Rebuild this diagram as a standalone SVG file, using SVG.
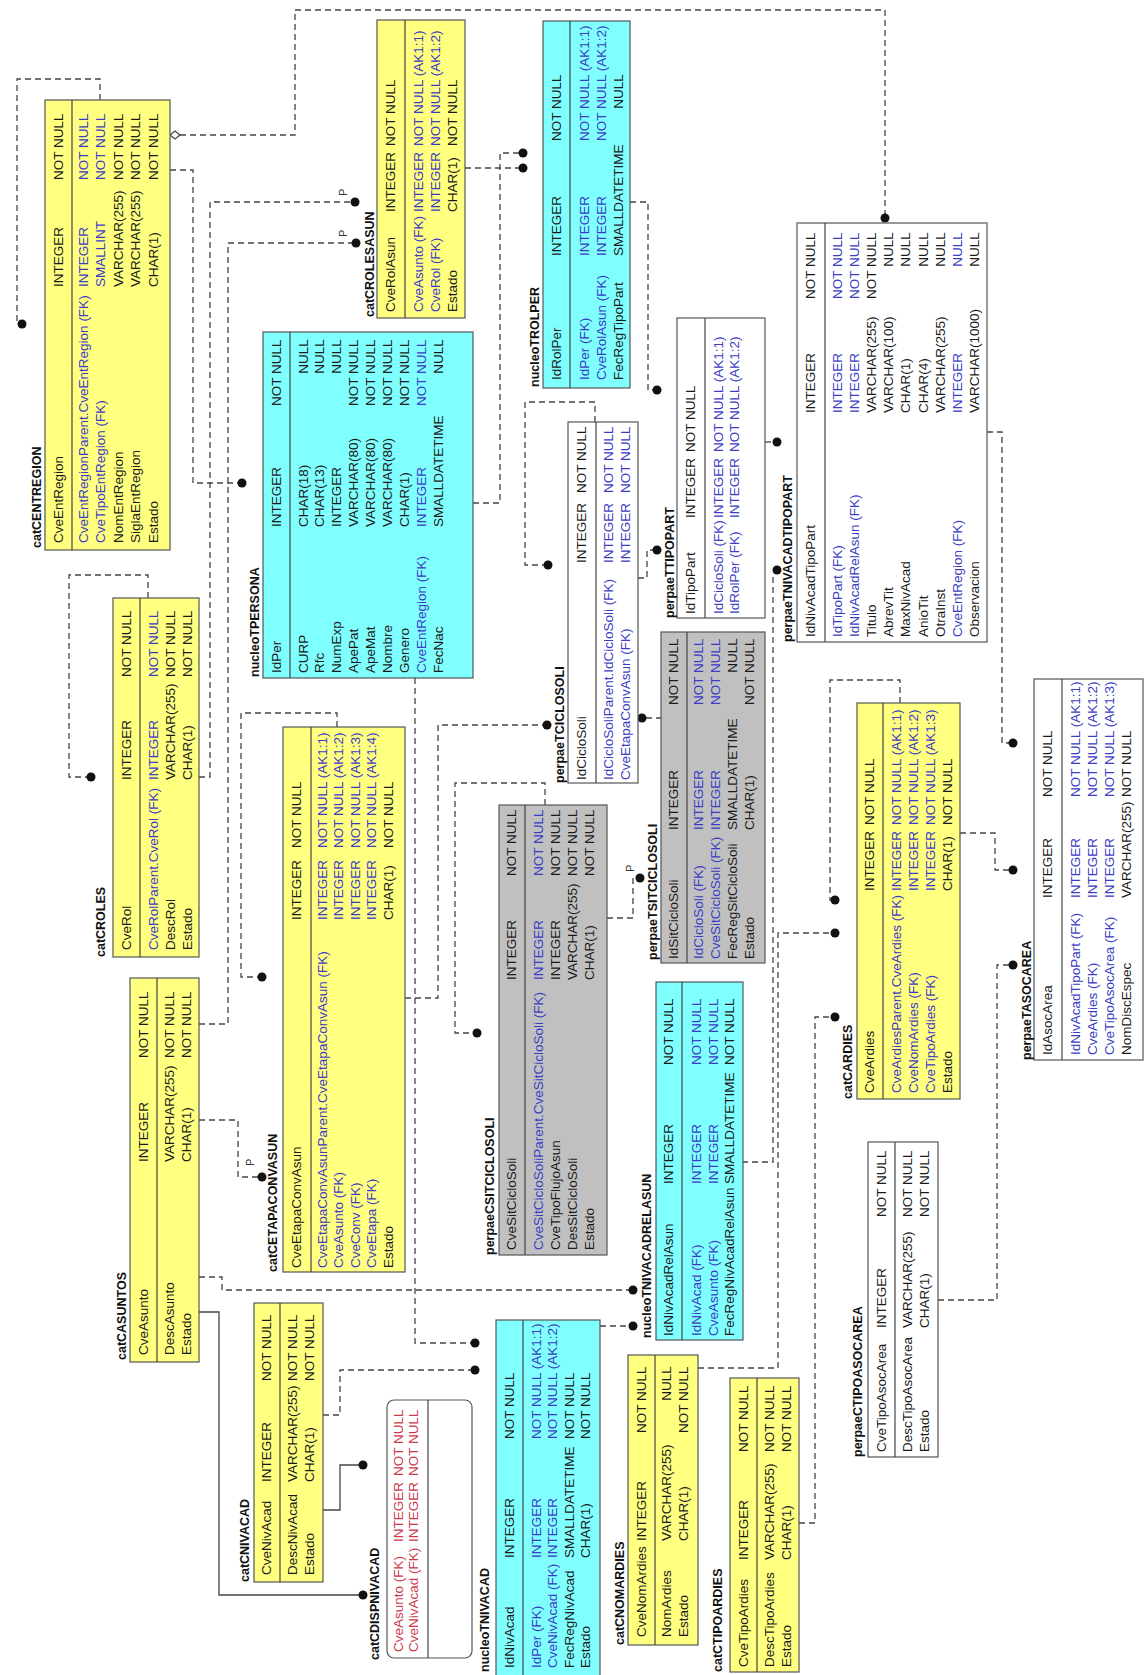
<svg xmlns="http://www.w3.org/2000/svg" width="1146" height="1675" viewBox="0 0 1146 1675">
<style>
text{font-family:"Liberation Sans",Arial,sans-serif;font-size:13.5px;fill:#1a1a1a}
.t{font-weight:bold;font-size:12.5px;fill:#111}
.b{fill:#3b3bc4}
.r{fill:#cc3a4a}
.e{text-anchor:end}
.yl{fill:#ffff80;stroke:#555;stroke-width:1.2}
.cy{fill:#80ffff;stroke:#555;stroke-width:1.2}
.gr{fill:#c0c0c0;stroke:#555;stroke-width:1.2}
.wh{fill:#ffffff;stroke:#555;stroke-width:1.2}
.dv{stroke:#444;stroke-width:1.2}
.cn{fill:none;stroke:#444;stroke-width:1.3;stroke-dasharray:6 4}
.so{fill:none;stroke:#444;stroke-width:1.3}
.dt{fill:#111}
.p{font-size:11px;fill:#333}
</style>
<rect width="1146" height="1675" fill="#ffffff"/>

<g id="connectors">
<path class="cn" d="M100,100 V79 H17 V322"/><circle class="dt" cx="22" cy="324" r="4.5"/>
<path class="cn" d="M180,135 H295 V10 H885 V214"/><polygon points="170,135 175,131 180,135 175,139" fill="#fff" stroke="#444" stroke-width="1.2"/><circle class="dt" cx="885" cy="218" r="4.5"/>
<path class="cn" d="M170,170 H193 V483 H238"/><circle class="dt" cx="242" cy="483" r="4.5"/>
<path class="cn" d="M199,777 H210 V202 H351"/><circle class="dt" cx="355" cy="202" r="4.5"/>
<path class="cn" d="M199,1024 H228 V243 H352"/><circle class="dt" cx="356" cy="243" r="4.5"/>
<path class="cn" d="M465,168 H519"/><circle class="dt" cx="523" cy="168" r="4.5"/>
<path class="cn" d="M473,503 H500 V153 H519"/><circle class="dt" cx="523" cy="153" r="4.5"/>
<path class="cn" d="M630,202 H648 V390 H653"/><circle class="dt" cx="657" cy="390" r="4.5"/>
<path class="cn" d="M595,422 V402 H525 V565 H544"/><circle class="dt" cx="548" cy="565" r="4.5"/>
<path class="cn" d="M638,578 H647 V550 H653"/><circle class="dt" cx="657" cy="550" r="4.5"/>
<path class="cn" d="M405,998 H438 V725 H543"/><circle class="dt" cx="547" cy="725" r="4.5"/>
<path class="cn" d="M646,718 H661"/><circle class="dt" cx="642" cy="718" r="4.5"/>
<path class="cn" d="M607,918 H633 V878 H636"/><circle class="dt" cx="640" cy="878" r="4.5"/>
<path class="cn" d="M765,442 H773"/><circle class="dt" cx="777" cy="442" r="4.5"/>
<path class="cn" d="M742,1162 H773 V574"/><circle class="dt" cx="777" cy="570" r="4.5"/>
<path class="cn" d="M698,1368 H778 V933 H831"/><circle class="dt" cx="835" cy="933" r="4.5"/>
<path class="cn" d="M799,1523 H815 V1017 H831"/><circle class="dt" cx="835" cy="1017" r="4.5"/>
<path class="cn" d="M900,703 V680 H830 V900 H831"/><circle class="dt" cx="835" cy="900" r="4.5"/>
<path class="cn" d="M960,833 H995 V870 H1009"/><circle class="dt" cx="1013" cy="870" r="4.5"/>
<path class="cn" d="M987,432 H1002 V743 H1009"/><circle class="dt" cx="1013" cy="743" r="4.5"/>
<path class="cn" d="M938,1300 H997 V965 H1009"/><circle class="dt" cx="1013" cy="965" r="4.5"/>
<path class="cn" d="M545,805 V783 H455 V1033 H473"/><circle class="dt" cx="477" cy="1033" r="4.5"/>
<path class="cn" d="M148,598 V575 H69 V777 H87"/><circle class="dt" cx="91" cy="777" r="4.5"/>
<path class="cn" d="M337,727 V713 H241 V977 H258"/><circle class="dt" cx="262" cy="977" r="4.5"/>
<path class="cn" d="M199,1120 H238 V1177 H258"/><circle class="dt" cx="262" cy="1177" r="4.5"/>
<path class="cn" d="M415,678 V1343 H471"/><circle class="dt" cx="475" cy="1343" r="4.5"/>
<path class="cn" d="M199,1277 H222 V1290 H629"/><circle class="dt" cx="633" cy="1290" r="4.5"/>
<path class="cn" d="M600,1326 H629"/><circle class="dt" cx="633" cy="1326" r="4.5"/>
<path class="cn" d="M323,1415 H340 V1370 H471"/><circle class="dt" cx="475" cy="1370" r="4.5"/>
<path class="so" d="M323,1510 H340 V1465 H359"/><circle class="dt" cx="363" cy="1465" r="4.5"/>
<path class="so" d="M199,1312 H219 V1595 H359"/><circle class="dt" cx="363" cy="1595" r="4.5"/>
<text class="p" transform="translate(347,196) rotate(-90)">P</text>
<text class="p" transform="translate(347,237) rotate(-90)">P</text>
<text class="p" transform="translate(254,1166) rotate(-90)">P</text>
<text class="p" transform="translate(634,872) rotate(-90)">P</text>
</g>

<g id="catCENTREGION" transform="translate(45,550) rotate(-90)">
<rect class="yl" width="450" height="125"/><line class="dv" x1="0" y1="27" x2="450" y2="27"/>
<text class="t" x="2" y="-4">catCENTREGION</text>
<text x="7" y="17.5">CveEntRegion</text><text x="263" y="17.5">INTEGER</text><text x="370" y="17.5">NOT NULL</text>
<text class="b" x="7" y="42.5">CveEntRegionParent.CveEntRegion (FK)</text><text class="b" x="263" y="42.5">INTEGER</text><text class="b" x="370" y="42.5">NOT NULL</text>
<text class="b" x="7" y="60">CveTipoEntRegion (FK)</text><text class="b" x="263" y="60">SMALLINT</text><text class="b" x="370" y="60">NOT NULL</text>
<text x="7" y="77.5">NomEntRegion</text><text x="263" y="77.5">VARCHAR(255)</text><text x="370" y="77.5">NOT NULL</text>
<text x="7" y="95">SiglaEntRegion</text><text x="263" y="95">VARCHAR(255)</text><text x="370" y="95">NOT NULL</text>
<text x="7" y="112.5">Estado</text><text x="263" y="112.5">CHAR(1)</text><text x="370" y="112.5">NOT NULL</text>
</g>

<g id="catCROLESASUN" transform="translate(377,318) rotate(-90)">
<rect class="yl" width="298" height="88"/><line class="dv" x1="0" y1="28" x2="298" y2="28"/>
<text class="t" x="1" y="-3">catCROLESASUN</text>
<text x="6" y="18">CveRolAsun</text><text x="106" y="18">INTEGER</text><text x="172" y="18">NOT NULL</text>
<text class="b" x="6" y="45.5">CveAsunto (FK)</text><text class="b" x="106" y="45.5">INTEGER</text><text class="b" x="172" y="45.5">NOT NULL (AK1:1)</text>
<text class="b" x="6" y="62.5">CveRol (FK)</text><text class="b" x="106" y="62.5">INTEGER</text><text class="b" x="172" y="62.5">NOT NULL (AK1:2)</text>
<text x="6" y="79.5">Estado</text><text x="106" y="79.5">CHAR(1)</text><text x="172" y="79.5">NOT NULL</text>
</g>

<g id="nucleoTPERSONA" transform="translate(263,678) rotate(-90)">
<rect class="cy" width="346" height="210"/><line class="dv" x1="0" y1="27" x2="346" y2="27"/>
<text class="t" x="1" y="-4">nucleoTPERSONA</text>
<text x="5" y="17.5">IdPer</text><text x="151" y="17.5">INTEGER</text><text x="272" y="17.5">NOT NULL</text>
<text x="5" y="44.5">CURP</text><text x="151" y="44.5">CHAR(18)</text><text class="e" x="338.8" y="44.5">NULL</text>
<text x="5" y="61.4">Rfc</text><text x="151" y="61.4">CHAR(13)</text><text class="e" x="338.8" y="61.4">NULL</text>
<text x="5" y="78.3">NumExp</text><text x="151" y="78.3">INTEGER</text><text class="e" x="338.8" y="78.3">NULL</text>
<text x="5" y="95.2">ApePat</text><text x="151" y="95.2">VARCHAR(80)</text><text x="272" y="95.2">NOT NULL</text>
<text x="5" y="112.1">ApeMat</text><text x="151" y="112.1">VARCHAR(80)</text><text x="272" y="112.1">NOT NULL</text>
<text x="5" y="129">Nombre</text><text x="151" y="129">VARCHAR(80)</text><text x="272" y="129">NOT NULL</text>
<text x="5" y="145.9">Genero</text><text x="151" y="145.9">CHAR(1)</text><text x="272" y="145.9">NOT NULL</text>
<text class="b" x="5" y="162.8">CveEntRegion (FK)</text><text class="b" x="151" y="162.8">INTEGER</text><text class="b" x="272" y="162.8">NOT NULL</text>
<text x="5" y="179.7">FecNac</text><text x="151" y="179.7">SMALLDATETIME</text><text class="e" x="338.8" y="179.7">NULL</text>
</g>

<g id="nucleoTROLPER" transform="translate(543,388) rotate(-90)">
<rect class="cy" width="367" height="87"/><line class="dv" x1="0" y1="27" x2="367" y2="27"/>
<text class="t" x="1" y="-4">nucleoTROLPER</text>
<text x="8" y="17.5">IdRolPer</text><text x="132" y="17.5">INTEGER</text><text x="247" y="17.5">NOT NULL</text>
<text class="b" x="8" y="45.5">IdPer (FK)</text><text class="b" x="132" y="45.5">INTEGER</text><text class="b" x="247" y="45.5">NOT NULL (AK1:1)</text>
<text class="b" x="8" y="62.5">CveRolAsun (FK)</text><text class="b" x="132" y="62.5">INTEGER</text><text class="b" x="247" y="62.5">NOT NULL (AK1:2)</text>
<text x="8" y="79.5">FecRegTipoPart</text><text x="132" y="79.5">SMALLDATETIME</text><text class="e" x="313.8" y="79.5">NULL</text>
</g>

<g id="catCROLES" transform="translate(113,957) rotate(-90)">
<rect class="yl" width="359" height="86"/><line class="dv" x1="0" y1="27" x2="359" y2="27"/>
<text class="t" x="0" y="-8">catCROLES</text>
<text x="7" y="17.5">CveRol</text><text x="177" y="17.5">INTEGER</text><text x="280" y="17.5">NOT NULL</text>
<text class="b" x="7" y="44.5">CveRolParent.CveRol (FK)</text><text class="b" x="177" y="44.5">INTEGER</text><text class="b" x="280" y="44.5">NOT NULL</text>
<text x="7" y="61.5">DescRol</text><text x="177" y="61.5">VARCHAR(255)</text><text x="280" y="61.5">NOT NULL</text>
<text x="7" y="78.5">Estado</text><text x="177" y="78.5">CHAR(1)</text><text x="280" y="78.5">NOT NULL</text>
</g>

<g id="catCASUNTOS" transform="translate(130,1362) rotate(-90)">
<rect class="yl" width="384" height="69"/><line class="dv" x1="0" y1="27" x2="384" y2="27"/>
<text class="t" x="2" y="-4">catCASUNTOS</text>
<text x="7" y="17.5">CveAsunto</text><text x="200" y="17.5">INTEGER</text><text x="304" y="17.5">NOT NULL</text>
<text x="7" y="43.5">DescAsunto</text><text x="200" y="43.5">VARCHAR(255)</text><text x="304" y="43.5">NOT NULL</text>
<text x="7" y="60.5">Estado</text><text x="200" y="60.5">CHAR(1)</text><text x="304" y="60.5">NOT NULL</text>
</g>

<g id="catCETAPACONVASUN" transform="translate(283,1272) rotate(-90)">
<rect class="yl" width="545" height="122"/><line class="dv" x1="0" y1="28" x2="545" y2="28"/>
<text class="t" x="0" y="-6">catCETAPACONVASUN</text>
<text x="4" y="18">CveEtapaConvAsun</text><text x="352" y="18">INTEGER</text><text x="424" y="18">NOT NULL</text>
<text class="b" x="4" y="43.5">CveEtapaConvAsunParent.CveEtapaConvAsun (FK)</text><text class="b" x="352" y="43.5">INTEGER</text><text class="b" x="424" y="43.5">NOT NULL (AK1:1)</text>
<text class="b" x="4" y="60">CveAsunto (FK)</text><text class="b" x="352" y="60">INTEGER</text><text class="b" x="424" y="60">NOT NULL (AK1:2)</text>
<text class="b" x="4" y="76.5">CveConv (FK)</text><text class="b" x="352" y="76.5">INTEGER</text><text class="b" x="424" y="76.5">NOT NULL (AK1:3)</text>
<text class="b" x="4" y="93">CveEtapa (FK)</text><text class="b" x="352" y="93">INTEGER</text><text class="b" x="424" y="93">NOT NULL (AK1:4)</text>
<text x="4" y="109.5">Estado</text><text x="352" y="109.5">CHAR(1)</text><text x="424" y="109.5">NOT NULL</text>
</g>

<g id="nucleoTNIVACADRELASUN" transform="translate(656,1340) rotate(-90)">
<rect class="cy" width="358" height="87"/><line class="dv" x1="0" y1="26" x2="358" y2="26"/>
<text class="t" x="2" y="-5">nucleoTNIVACADRELASUN</text>
<text x="4" y="17">IdNivAcadRelAsun</text><text x="156" y="17">INTEGER</text><text x="275" y="17">NOT NULL</text>
<text class="b" x="4" y="45">IdNivAcad (FK)</text><text class="b" x="156" y="45">INTEGER</text><text class="b" x="275" y="45">NOT NULL</text>
<text class="b" x="4" y="61.5">CveAsunto (FK)</text><text class="b" x="156" y="61.5">INTEGER</text><text class="b" x="275" y="61.5">NOT NULL</text>
<text x="4" y="78">FecRegNivAcadRelAsun</text><text x="156" y="78">SMALLDATETIME</text><text x="275" y="78">NOT NULL</text>
</g>

<g id="perpaeCSITCICLOSOLI" transform="translate(499,1255) rotate(-90)">
<rect class="gr" width="450" height="108"/><line class="dv" x1="0" y1="26" x2="450" y2="26"/>
<text class="t" x="0" y="-5">perpaeCSITCICLOSOLI</text>
<text x="5" y="17">CveSitCicloSoli</text><text x="275" y="17">INTEGER</text><text x="379" y="17">NOT NULL</text>
<text class="b" x="5" y="43.5">CveSitCicloSoliParent.CveSitCicloSoli (FK)</text><text class="b" x="275" y="43.5">INTEGER</text><text class="b" x="379" y="43.5">NOT NULL</text>
<text x="5" y="60.5">CveTipoFlujoAsun</text><text x="275" y="60.5">INTEGER</text><text x="379" y="60.5">NOT NULL</text>
<text x="5" y="77.5">DesSitCicloSoli</text><text x="275" y="77.5">VARCHAR(255)</text><text x="379" y="77.5">NOT NULL</text>
<text x="5" y="94.5">Estado</text><text x="275" y="94.5">CHAR(1)</text><text x="379" y="94.5">NOT NULL</text>
</g>

<g id="perpaeTCICLOSOLI" transform="translate(568,783) rotate(-90)">
<rect class="wh" width="361" height="70"/><line class="dv" x1="0" y1="28" x2="361" y2="28"/>
<text class="t" x="0" y="-4">perpaeTCICLOSOLI</text>
<text x="3" y="18">IdCicloSoli</text><text x="220" y="18">INTEGER</text><text x="290" y="18">NOT NULL</text>
<text class="b" x="3" y="45">IdCicloSoliParent.IdCicloSoli (FK)</text><text class="b" x="220" y="45">INTEGER</text><text class="b" x="290" y="45">NOT NULL</text>
<text class="b" x="3" y="61.5">CveEtapaConvAsun (FK)</text><text class="b" x="220" y="61.5">INTEGER</text><text class="b" x="290" y="61.5">NOT NULL</text>
</g>

<g id="perpaeTTIPOPART" transform="translate(677,618) rotate(-90)">
<rect class="wh" width="300" height="88"/><line class="dv" x1="0" y1="28" x2="300" y2="28"/>
<text class="t" x="0" y="-3">perpaeTTIPOPART</text>
<text x="4" y="18">IdTipoPart</text><text x="100" y="18">INTEGER</text><text x="166" y="18">NOT NULL</text>
<text class="b" x="4" y="45.5">IdCicloSoli (FK)</text><text class="b" x="100" y="45.5">INTEGER</text><text class="b" x="166" y="45.5">NOT NULL (AK1:1)</text>
<text class="b" x="4" y="61.5">IdRolPer (FK)</text><text class="b" x="100" y="61.5">INTEGER</text><text class="b" x="166" y="61.5">NOT NULL (AK1:2)</text>
</g>

<g id="perpaeTSITCICLOSOLI" transform="translate(661,963) rotate(-90)">
<rect class="gr" width="331" height="104"/><line class="dv" x1="0" y1="26" x2="331" y2="26"/>
<text class="t" x="3" y="-4">perpaeTSITCICLOSOLI</text>
<text x="4" y="17">IdSitCicloSoli</text><text x="133" y="17">INTEGER</text><text x="258" y="17">NOT NULL</text>
<text class="b" x="4" y="41.5">IdCicloSoli (FK)</text><text class="b" x="133" y="41.5">INTEGER</text><text class="b" x="258" y="41.5">NOT NULL</text>
<text class="b" x="4" y="58.5">CveSitCicloSoli (FK)</text><text class="b" x="133" y="58.5">INTEGER</text><text class="b" x="258" y="58.5">NOT NULL</text>
<text x="4" y="75.5">FecRegSitCicloSoli</text><text x="133" y="75.5">SMALLDATETIME</text><text class="e" x="324.8" y="75.5">NULL</text>
<text x="4" y="92.5">Estado</text><text x="133" y="92.5">CHAR(1)</text><text x="258" y="92.5">NOT NULL</text>
</g>

<g id="perpaeTNIVACADTIPOPART" transform="translate(797,642) rotate(-90)">
<rect class="wh" width="419" height="190"/><line class="dv" x1="0" y1="28" x2="419" y2="28"/>
<text class="t" x="0" y="-5">perpaeTNIVACADTIPOPART</text>
<text x="5" y="18">IdNivAcadTipoPart</text><text x="229" y="18">INTEGER</text><text x="343" y="18">NOT NULL</text>
<text class="b" x="5" y="44.5">IdTipoPart (FK)</text><text class="b" x="229" y="44.5">INTEGER</text><text class="b" x="343" y="44.5">NOT NULL</text>
<text class="b" x="5" y="61.7">IdNivAcadRelAsun (FK)</text><text class="b" x="229" y="61.7">INTEGER</text><text class="b" x="343" y="61.7">NOT NULL</text>
<text x="5" y="78.9">Titulo</text><text x="229" y="78.9">VARCHAR(255)</text><text x="343" y="78.9">NOT NULL</text>
<text x="5" y="96.1">AbrevTit</text><text x="229" y="96.1">VARCHAR(100)</text><text class="e" x="409.8" y="96.1">NULL</text>
<text x="5" y="113.3">MaxNivAcad</text><text x="229" y="113.3">CHAR(1)</text><text class="e" x="409.8" y="113.3">NULL</text>
<text x="5" y="130.5">AnioTit</text><text x="229" y="130.5">CHAR(4)</text><text class="e" x="409.8" y="130.5">NULL</text>
<text x="5" y="147.7">OtraInst</text><text x="229" y="147.7">VARCHAR(255)</text><text class="e" x="409.8" y="147.7">NULL</text>
<text class="b" x="5" y="164.9">CveEntRegion (FK)</text><text class="b" x="229" y="164.9">INTEGER</text><text class="b e" x="409.8" y="164.9">NULL</text>
<text x="5" y="182.1">Observacion</text><text x="229" y="182.1">VARCHAR(1000)</text><text class="e" x="409.8" y="182.1">NULL</text>
</g>

<g id="catCARDIES" transform="translate(857,1099) rotate(-90)">
<rect class="yl" width="396" height="103"/><line class="dv" x1="0" y1="26" x2="396" y2="26"/>
<text class="t" x="0" y="-5">catCARDIES</text>
<text x="6" y="17">CveArdies</text><text x="208" y="17">INTEGER</text><text x="274" y="17">NOT NULL</text>
<text class="b" x="6" y="44">CveArdiesParent.CveArdies (FK)</text><text class="b" x="208" y="44">INTEGER</text><text class="b" x="274" y="44">NOT NULL (AK1:1)</text>
<text class="b" x="6" y="61">CveNomArdies (FK)</text><text class="b" x="208" y="61">INTEGER</text><text class="b" x="274" y="61">NOT NULL (AK1:2)</text>
<text class="b" x="6" y="78">CveTipoArdies (FK)</text><text class="b" x="208" y="78">INTEGER</text><text class="b" x="274" y="78">NOT NULL (AK1:3)</text>
<text x="6" y="95">Estado</text><text x="208" y="95">CHAR(1)</text><text x="274" y="95">NOT NULL</text>
</g>

<g id="perpaeTASOCAREA" transform="translate(1034,1060) rotate(-90)">
<rect class="wh" width="381" height="109"/><line class="dv" x1="0" y1="28" x2="381" y2="28"/>
<text class="t" x="0" y="-3">perpaeTASOCAREA</text>
<text x="5" y="18">IdAsocArea</text><text x="162" y="18">INTEGER</text><text x="263" y="18">NOT NULL</text>
<text class="b" x="5" y="45.5">IdNivAcadTipoPart (FK)</text><text class="b" x="162" y="45.5">INTEGER</text><text class="b" x="263" y="45.5">NOT NULL (AK1:1)</text>
<text class="b" x="5" y="62.5">CveArdies (FK)</text><text class="b" x="162" y="62.5">INTEGER</text><text class="b" x="263" y="62.5">NOT NULL (AK1:2)</text>
<text class="b" x="5" y="79.5">CveTipoAsocArea (FK)</text><text class="b" x="162" y="79.5">INTEGER</text><text class="b" x="263" y="79.5">NOT NULL (AK1:3)</text>
<text x="5" y="96.5">NomDiscEspec</text><text x="162" y="96.5">VARCHAR(255)</text><text x="263" y="96.5">NOT NULL</text>
</g>

<g id="catCNIVACAD" transform="translate(254,1582) rotate(-90)">
<rect class="yl" width="279" height="69"/><line class="dv" x1="0" y1="26" x2="279" y2="26"/>
<text class="t" x="0" y="-5">catCNIVACAD</text>
<text x="7" y="17">CveNivAcad</text><text x="100" y="17">INTEGER</text><text x="201" y="17">NOT NULL</text>
<text x="7" y="43">DescNivAcad</text><text x="100" y="43">VARCHAR(255)</text><text x="201" y="43">NOT NULL</text>
<text x="7" y="59.5">Estado</text><text x="100" y="59.5">CHAR(1)</text><text x="201" y="59.5">NOT NULL</text>
</g>

<g id="catCDISPNIVACAD" transform="translate(387,1658) rotate(-90)">
<rect class="wh" width="258" height="85" rx="7" ry="7"/><line class="dv" x1="0" y1="41" x2="258" y2="41"/>
<text class="t" x="-2" y="-8">catCDISPNIVACAD</text>
<text class="r" x="6" y="15.5">CveAsunto (FK)</text><text class="r" x="116" y="15.5">INTEGER</text><text class="r" x="182" y="15.5">NOT NULL</text>
<text class="r" x="6" y="30.5">CveNivAcad (FK)</text><text class="r" x="116" y="30.5">INTEGER</text><text class="r" x="182" y="30.5">NOT NULL</text>
</g>

<g id="nucleoTNIVACAD" transform="translate(496,1676) rotate(-90)">
<rect class="cy" width="356" height="104"/><line class="dv" x1="0" y1="27" x2="356" y2="27"/>
<text class="t" x="4" y="-7">nucleoTNIVACAD</text>
<text x="8" y="17.5">IdNivAcad</text><text x="118" y="17.5">INTEGER</text><text x="237" y="17.5">NOT NULL</text>
<text class="b" x="8" y="44.5">IdPer (FK)</text><text class="b" x="118" y="44.5">INTEGER</text><text class="b" x="237" y="44.5">NOT NULL (AK1:1)</text>
<text class="b" x="8" y="61">CveNivAcad (FK)</text><text class="b" x="118" y="61">INTEGER</text><text class="b" x="237" y="61">NOT NULL (AK1:2)</text>
<text x="8" y="77.5">FecRegNivAcad</text><text x="118" y="77.5">SMALLDATETIME</text><text x="237" y="77.5">NOT NULL</text>
<text x="8" y="94">Estado</text><text x="118" y="94">CHAR(1)</text><text x="237" y="94">NOT NULL</text>
</g>

<g id="catCNOMARDIES" transform="translate(628,1645) rotate(-90)">
<rect class="yl" width="290" height="70"/><line class="dv" x1="0" y1="27" x2="290" y2="27"/>
<text class="t" x="0" y="-4">catCNOMARDIES</text>
<text x="8" y="17.5">CveNomArdies</text><text x="104" y="17.5">INTEGER</text><text x="212" y="17.5">NOT NULL</text>
<text x="8" y="43">NomArdies</text><text x="104" y="43">VARCHAR(255)</text><text class="e" x="278.8" y="43">NULL</text>
<text x="8" y="59.5">Estado</text><text x="104" y="59.5">CHAR(1)</text><text x="212" y="59.5">NOT NULL</text>
</g>

<g id="catCTIPOARDIES" transform="translate(730,1672) rotate(-90)">
<rect class="yl" width="294" height="69"/><line class="dv" x1="0" y1="27" x2="294" y2="27"/>
<text class="t" x="0" y="-8">catCTIPOARDIES</text>
<text x="5" y="17.5">CveTipoArdies</text><text x="112" y="17.5">INTEGER</text><text x="220" y="17.5">NOT NULL</text>
<text x="5" y="44">DescTipoArdies</text><text x="112" y="44">VARCHAR(255)</text><text x="220" y="44">NOT NULL</text>
<text x="5" y="60.5">Estado</text><text x="112" y="60.5">CHAR(1)</text><text x="220" y="60.5">NOT NULL</text>
</g>

<g id="perpaeCTIPOASOCAREA" transform="translate(868,1457) rotate(-90)">
<rect class="wh" width="315" height="70"/><line class="dv" x1="0" y1="27" x2="315" y2="27"/>
<text class="t" x="0" y="-6">perpaeCTIPOASOCAREA</text>
<text x="5" y="17.5">CveTipoAsocArea</text><text x="129" y="17.5">INTEGER</text><text x="240" y="17.5">NOT NULL</text>
<text x="5" y="44">DescTipoAsocArea</text><text x="129" y="44">VARCHAR(255)</text><text x="240" y="44">NOT NULL</text>
<text x="5" y="60.5">Estado</text><text x="129" y="60.5">CHAR(1)</text><text x="240" y="60.5">NOT NULL</text>
</g>
</svg>
